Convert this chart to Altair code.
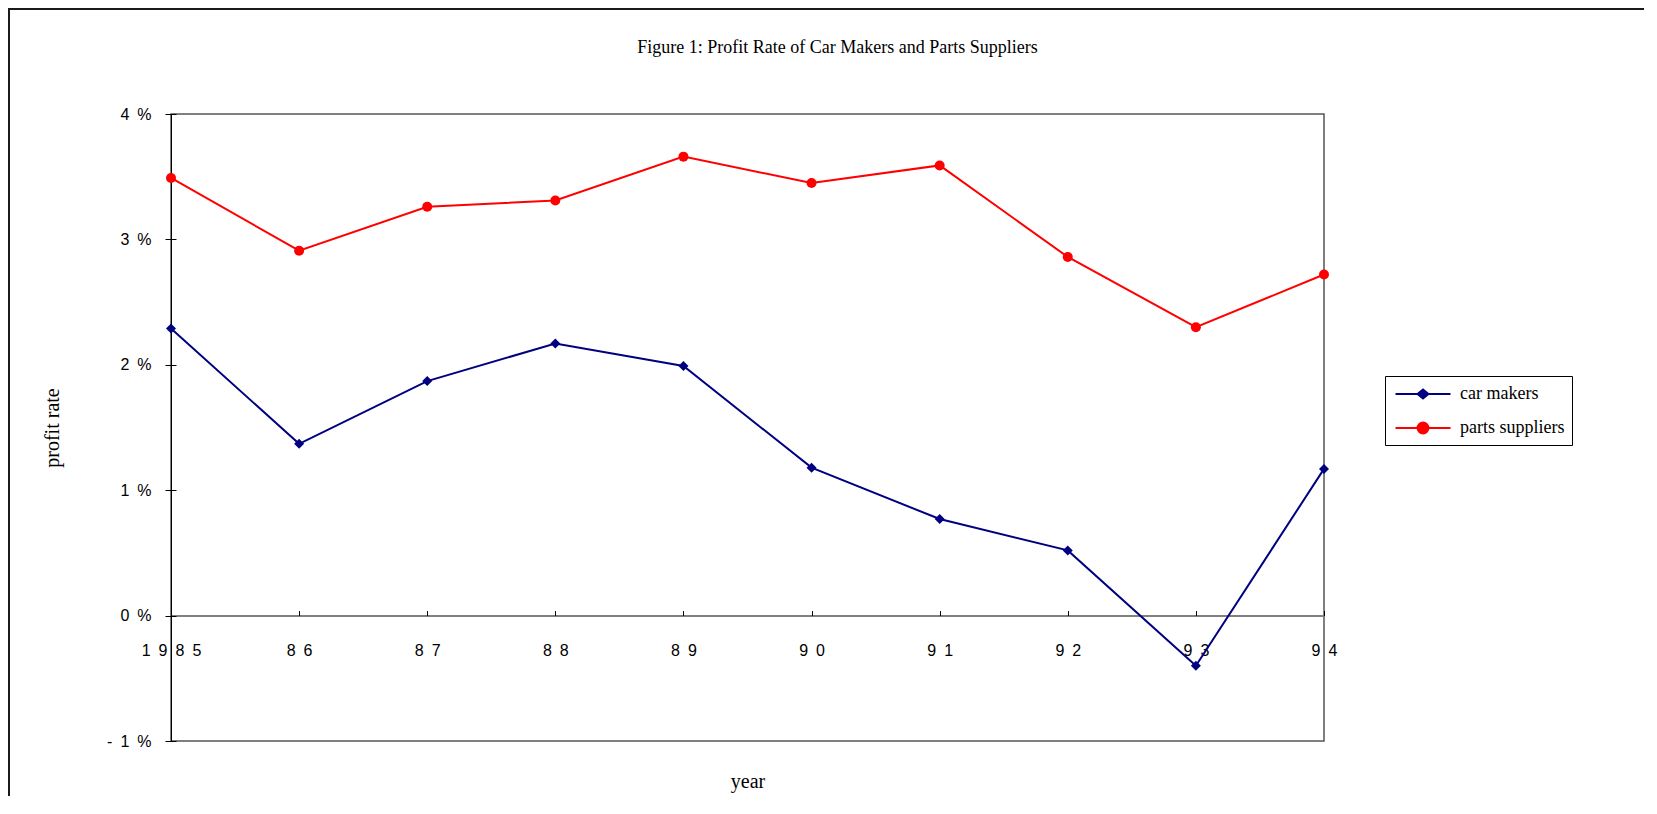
import altair as alt
import pandas as pd

# ---- data ----
SP = "\u2002"  # en space, as the reference spreads its tick labels out
year_labels = [SP.join("1985"), SP.join("86"), SP.join("87"), SP.join("88"), SP.join("89"),
               SP.join("90"), SP.join("91"), SP.join("92"), SP.join("93"), SP.join("94")]
series_names = ["car makers", "parts suppliers"]
car_makers = [2.29, 1.37, 1.87, 2.17, 1.99, 1.18, 0.77, 0.52, -0.40, 1.17]
parts_suppliers = [3.49, 2.91, 3.26, 3.31, 3.66, 3.45, 3.59, 2.86, 2.30, 2.72]
y_tick_values = [-1, 0, 1, 2, 3, 4]
series_colors = ["#000080", "#FF0000"]
series_shapes = ["diamond", "circle"]
legend_shapes = [
    "M-2.75,0H2.75M-0.55,0L0,-0.45L0.55,0L0,0.45Z",
    "M-2.75,0H2.75M-0.55,0A0.55,0.55 0 1,0 0.55,0A0.55,0.55 0 1,0 -0.55,0Z",
]
title_text = "Figure 1: Profit Rate of Car Makers and Parts Suppliers"

rows = []
for name, vals in zip(series_names, [car_makers, parts_suppliers]):
    for yl, v in zip(year_labels, vals):
        rows.append({"year": yl, "rate": v, "series": name})
df = pd.DataFrame(rows)

W, H = 1153, 627
zero_off = H / 5.0  # distance of the 0 % line above the bottom edge

SERIF = "Liberation Serif"
SANS = "Liberation Sans"

xscale = alt.Scale(type="point", padding=0)
yscale = alt.Scale(domain=[-1, 4], nice=False, zero=False)
color_scale = alt.Scale(domain=series_names, range=series_colors)

y_label_expr = ("datum.value < 0 ? '-\u20021\u2002%' : datum.value + '\u2002%'")

base = alt.Chart(df)

# outer frame of the whole figure
frame = alt.Chart(alt.Data(values=[{"f": 1}])).mark_rect(
    fillOpacity=0, stroke="#1a1a1a", strokeWidth=2, clip=False
).encode(
    x=alt.value(-162), x2=alt.value(1700), y=alt.value(-105), y2=alt.value(900)
)

lines = base.mark_line(strokeWidth=2).encode(
    x=alt.X("year:O", sort=year_labels, scale=xscale,
            axis=alt.Axis(orient="bottom", offset=-zero_off, domainColor="#808080",
                          domainWidth=2, ticks=False, tickSize=0, labelAngle=0,
                          labelPadding=27, labelFont=SANS, labelFontSize=16,
                          labelColor="black", title="year", titleFont=SERIF,
                          titleFontSize=20, titleFontWeight="normal",
                          titleX=W / 2, titleY=166,
                          titleBaseline="middle", grid=False)),
    y=alt.Y("rate:Q", scale=yscale,
            axis=alt.Axis(orient="left", values=y_tick_values, labelExpr=y_label_expr,
                          domainColor="black", domainWidth=1, tickColor="black",
                          tickSize=6, labelPadding=14, labelFont=SANS, labelFontSize=16,
                          labelColor="black", title="profit rate", titleFont=SERIF,
                          titleFontSize=20, titleFontWeight="normal", titleX=-119,
                          titleY=H / 2, titleBaseline="middle", titleAngle=270,
                          grid=False)),
    color=alt.Color("series:N", scale=color_scale, legend=None),
    detail="series:N",
)

points = base.mark_point(filled=True, size=100, opacity=1).encode(
    x=alt.X("year:O", sort=year_labels, scale=xscale,
            axis=alt.Axis(orient="top", offset=-(H - zero_off), domain=False,
                          ticks=True, tickSize=5, tickColor="black", labels=False,
                          title=None, grid=False)),
    y=alt.Y("rate:Q", scale=yscale,
            axis=alt.Axis(orient="right", offset=-W, values=y_tick_values, domain=False,
                          ticks=True, tickSize=5, tickColor="black", labels=False,
                          title=None, grid=False)),
    color=alt.Color("series:N", scale=color_scale, legend=None),
    shape=alt.Shape("series:N", scale=alt.Scale(domain=series_names, range=series_shapes),
                    legend=None),
)

legend_layer = base.transform_filter("false").mark_point(
    filled=True, size=400, opacity=1
).encode(
    fill=alt.Fill("series:N", scale=alt.Scale(domain=series_names, range=series_colors),
                  legend=alt.Legend(title=None)),
    stroke=alt.Stroke("series:N", scale=alt.Scale(domain=series_names, range=series_colors),
                      legend=alt.Legend(title=None)),
    shape=alt.Shape("series:N", scale=alt.Scale(domain=series_names, range=legend_shapes),
                    legend=alt.Legend(title=None)),
)

chart = alt.layer(frame, lines, points, legend_layer).resolve_scale(
    shape="independent", fill="independent", stroke="independent"
).resolve_axis(
    x="independent", y="independent"
).properties(
    width=W, height=H,
    background="white",
    autosize=alt.AutoSizeParams(type="none"),
    padding={"left": 163, "top": 106, "right": 320, "bottom": 55},
    title=alt.TitleParams(title_text, anchor="middle", frame="group", dx=90, offset=-58,
                          baseline="middle", font=SERIF, fontSize=18,
                          fontWeight="normal", color="black"),
).configure_view(
    stroke="#555555", strokeWidth=1.5
).configure_legend(
    orient="none", legendX=1214, legendY=262, strokeColor="black", fillColor="white",
    padding=7, labelFont=SERIF, labelFontSize=18, labelColor="black",
    symbolSize=400, symbolStrokeWidth=2, symbolOffset=20, labelOffset=26, rowPadding=14,
    symbolOpacity=1,
)

chart.save("out.html", embed_options={"renderer": "svg", "actions": False})
